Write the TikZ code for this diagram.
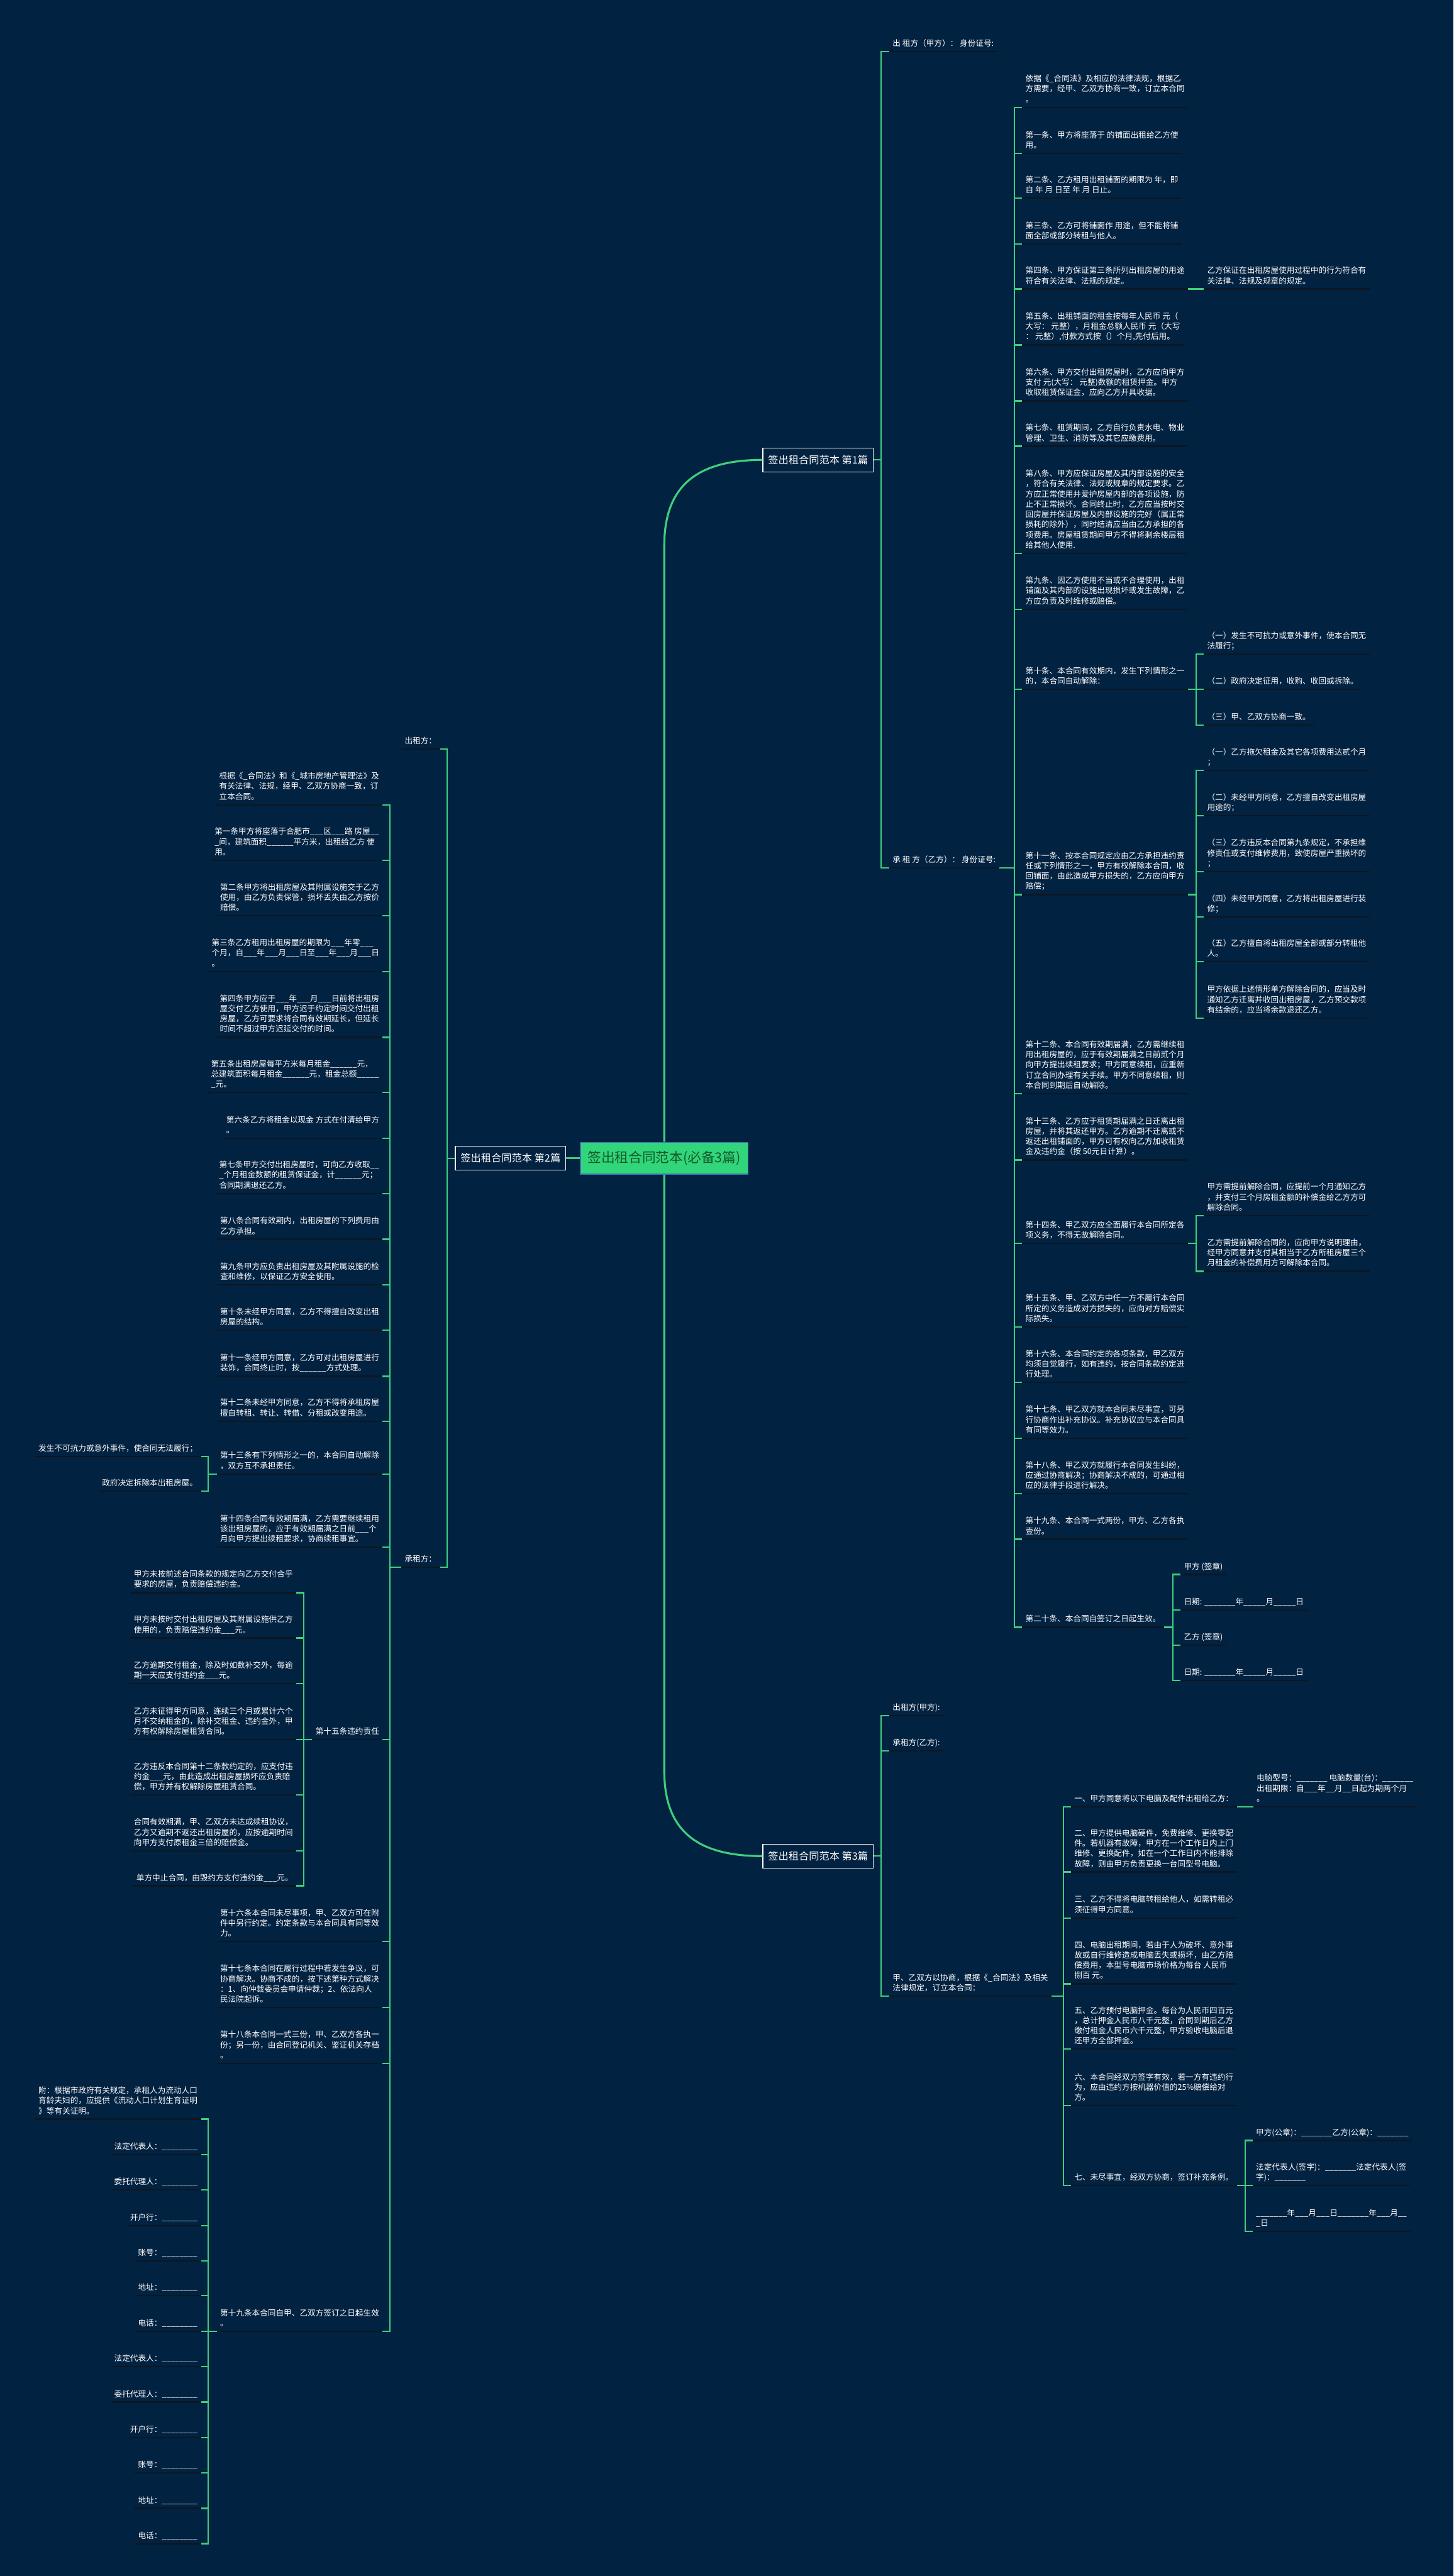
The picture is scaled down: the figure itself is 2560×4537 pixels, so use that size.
\documentclass[tikz,border=0pt]{standalone}
\usepackage{fontspec}
\newfontfamily\cjk{Noto Sans CJK SC}
\definecolor{bgc}{HTML}{022241}
\definecolor{lnc}{HTML}{3ECF7E}
\definecolor{ulc}{HTML}{0B1724}
\definecolor{ctrf}{HTML}{31D67A}
\definecolor{ctrd}{HTML}{3A6DB5}
\definecolor{ctrt}{HTML}{145A2C}
\tikzset{
  ul/.style={draw=ulc, line width=2.5pt},
  txt/.style={font=\cjk\fontsize{14}{18}\selectfont, text=white, align=left,
    inner xsep=6pt, inner ysep=6pt, text depth=3.2pt,
    append after command={(\tikzlastnode.south west) edge[ul] (\tikzlastnode.south east)}},
  R/.style={txt, anchor=south west},
  L/.style={txt, anchor=south east},
  conn/.style={draw=lnc, line width=2.5pt},
  mainc/.style={draw=lnc, line width=3.5pt},
  branch/.style={draw=white, line width=1.6pt, fill=bgc, text=white,
    font=\cjk\fontsize{18}{22}\selectfont, inner xsep=9pt, minimum height=42pt},
  hub/.style={draw=ctrd, line width=2pt, fill=ctrf, text=ctrt,
    font=\cjk\fontsize{24}{28}\selectfont, minimum width=295pt, minimum height=56pt}
}
\newcommand\RC[2]{\draw[conn] (#2.south west) -- ++(-13,0) |- (#1.south east);}
\newcommand\LC[2]{\draw[conn] (#2.south east) -- ++(13,0) |- (#1.south west);}
\begin{document}
\catcode`\_=12
\begin{tikzpicture}[x=1pt,y=-1pt]
\useasboundingbox (0,0) rectangle (2560,4537);
\fill[bgc] (0,0) rectangle (2560,4537);

% center and branches
\node[hub] (C0) at (1170,2040) {签出租合同范本(必备3篇)};
\node[branch, anchor=west] (B1) at (1343,810) {签出租合同范本 第1篇};
\node[branch, anchor=east] (B2) at (997,2040) {签出租合同范本 第2篇};
\node[branch, anchor=west] (B3) at (1343,3269) {签出租合同范本 第3篇};
\draw[mainc] (C0.west) -- (B2.east);
\draw[mainc] (C0.north) -- ++(0,-1050) .. controls +(0,-110) and +(-110,0) .. (B1.west);
\draw[mainc] (C0.south) -- ++(0,1050) .. controls +(0,110) and +(-110,0) .. (B3.west);

% ===== Branch 1 =====
\node[R] (A1) at (1566,91) {出 租方（甲方）： 身份证号:};
\node[R] (A2) at (1566,1528.6) {承 租 方（乙方）： 身份证号:};
\draw[conn] (A1.south west) -- ++(-14,0) |- (B1.east);
\draw[conn] (A2.south west) -- ++(-14,0) |- (B1.east);

\node[R] (c0) at (1800,189) {依据《_合同法》及相应的法律法规，根据乙\\方需要，经甲、乙双方协商一致，订立本合同\\。};
\node[R] (c1) at (1800,270) {第一条、甲方将座落于 的铺面出租给乙方使\\用。};
\node[R] (c2) at (1800,349) {第二条、乙方租用出租铺面的期限为 年，即\\自 年 月 日至 年 月 日止。};
\node[R] (c3) at (1800,429.5) {第三条、乙方可将铺面作 用途，但不能将铺\\面全部或部分转租与他人。};
\node[R] (c4) at (1800,509) {第四条、甲方保证第三条所列出租房屋的用途\\符合有关法律、法规的规定。};
\node[R] (d4) at (2120,509) {乙方保证在出租房屋使用过程中的行为符合有\\关法律、法规及规章的规定。};
\node[R] (c5) at (1800,607.5) {第五条、出租铺面的租金按每年人民币 元（\\大写： 元整），月租金总额人民币 元（大写\\： 元整）,付款方式按（）个月,先付后用。};
\node[R] (c6) at (1800,706) {第六条、甲方交付出租房屋时，乙方应向甲方\\支付 元(大写： 元整)数额的租赁押金。甲方\\收取租赁保证金，应向乙方开具收据。};
\node[R] (c7) at (1800,786) {第七条、租赁期间，乙方自行负责水电、物业\\管理、卫生、消防等及其它应缴费用。};
\node[R] (c8) at (1800,974.5) {第八条、甲方应保证房屋及其内部设施的安全\\，符合有关法律、法规或规章的规定要求。乙\\方应正常使用并爱护房屋内部的各项设施，防\\止不正常损坏。合同终止时，乙方应当按时交\\回房屋并保证房屋及内部设施的完好（属正常\\损耗的除外），同时结清应当由乙方承担的各\\项费用。房屋租赁期间甲方不得将剩余楼层租\\给其他人使用.};
\node[R] (c9) at (1800,1073) {第九条、因乙方使用不当或不合理使用，出租\\铺面及其内部的设施出现损坏或发生故障，乙\\方应负责及时维修或赔偿。};
\node[R] (c10) at (1800,1214) {第十条、本合同有效期内，发生下列情形之一\\的，本合同自动解除：};
\node[R] (e0) at (2120,1152) {（一）发生不可抗力或意外事件，使本合同无\\法履行；};
\node[R] (e1) at (2120,1214) {（二）政府决定征用，收购、收回或拆除。};
\node[R] (e2) at (2120,1277) {（三）甲、乙双方协商一致。};
\node[R] (c11) at (1800,1575.5) {第十一条、按本合同规定应由乙方承担违约责\\任或下列情形之一，甲方有权解除本合同，收\\回铺面，由此造成甲方损失的，乙方应向甲方\\赔偿；};
\node[R] (h0) at (2120,1356.6) {（一）乙方拖欠租金及其它各项费用达贰个月\\；};
\node[R] (h1) at (2120,1436.7) {（二）未经甲方同意，乙方擅自改变出租房屋\\用途的；};
\node[R] (h2) at (2120,1535) {（三）乙方违反本合同第九条规定，不承担维\\修责任或支付维修费用，致使房屋严重损坏的\\；};
\node[R] (h3) at (2120,1615) {（四）未经甲方同意，乙方将出租房屋进行装\\修；};
\node[R] (h4) at (2120,1694) {（五）乙方擅自将出租房屋全部或部分转租他\\人。};
\node[R] (h5) at (2120,1793) {甲方依据上述情形单方解除合同的，应当及时\\通知乙方迁离并收回出租房屋，乙方预交款项\\有结余的，应当将余款退还乙方。};
\node[R] (c12) at (1800,1926) {第十二条、本合同有效期届满，乙方需继续租\\用出租房屋的，应于有效期届满之日前贰个月\\向甲方提出续租要求；甲方同意续租，应重新\\订立合同办理有关手续。甲方不同意续租，则\\本合同到期后自动解除。};
\node[R] (c13) at (1800,2043) {第十三条、乙方应于租赁期届满之日迁离出租\\房屋，并将其返还甲方。乙方逾期不迁离或不\\返还出租铺面的，甲方可有权向乙方加收租赁\\金及违约金（按 50元日计算）。};
\node[R] (c14) at (1800,2190) {第十四条、甲乙双方应全面履行本合同所定各\\项义务，不得无故解除合同。};
\node[R] (i0) at (2120,2141) {甲方需提前解除合同，应提前一个月通知乙方\\，并支付三个月房租金额的补偿金给乙方方可\\解除合同。};
\node[R] (i1) at (2120,2239) {乙方需提前解除合同的，应向甲方说明理由，\\经甲方同意并支付其相当于乙方所租房屋三个\\月租金的补偿费用方可解除本合同。};
\node[R] (c15) at (1800,2337) {第十五条、甲、乙双方中任一方不履行本合同\\所定的义务造成对方损失的，应向对方赔偿实\\际损失。};
\node[R] (c16) at (1800,2435) {第十六条、本合同约定的各项条款，甲乙双方\\均须自觉履行，如有违约，按合同条款约定进\\行处理。};
\node[R] (c17) at (1800,2533) {第十七条、甲乙双方就本合同未尽事宜，可另\\行协商作出补充协议。补充协议应与本合同具\\有同等效力。};
\node[R] (c18) at (1800,2631) {第十八条、甲乙双方就履行本合同发生纠纷，\\应通过协商解决；协商解决不成的，可通过相\\应的法律手段进行解决。};
\node[R] (c19) at (1800,2711) {第十九条、本合同一式两份，甲方、乙方各执\\壹份。};
\node[R] (c20) at (1800,2866) {第二十条、本合同自签订之日起生效。};
\node[R] (j0) at (2079,2773) {甲方 (签章)};
\node[R] (j1) at (2079,2835.5) {日期: _______年_____月_____日};
\node[R] (j2) at (2079,2898) {乙方 (签章)};
\node[R] (j3) at (2079,2960) {日期: _______年_____月_____日};

\foreach \i in {0,...,20} {\RC{A2}{c\i}}
\RC{c4}{d4}
\foreach \i in {0,1,2} {\RC{c10}{e\i}}
\foreach \i in {0,...,5} {\RC{c11}{h\i}}
\foreach \i in {0,1} {\RC{c14}{i\i}}
\foreach \i in {0,...,3} {\RC{c20}{j\i}}

% ===== Branch 3 =====
\node[R] (k0) at (1566,3021.6) {出租方(甲方):};
\node[R] (k1) at (1566,3084) {承租方(乙方):};
\node[R] (k2) at (1566,3515.7) {甲、乙双方以协商，根据《_合同法》及相关\\法律规定，订立本合同：};
\foreach \i in {0,1,2} {\draw[conn] (k\i.south west) -- ++(-14,0) |- (B3.east);}
\node[R] (m0) at (1886,3182) {一、甲方同意将以下电脑及配件出租给乙方：};
\node[R] (ma) at (2207,3182) {电脑型号：_______ 电脑数量(台)：_______\\出租期限：自___年__月__日起为期两个月\\。};
\node[R] (m1) at (1886,3297) {二、甲方提供电脑硬件，免费维修、更换零配\\件。若机器有故障，甲方在一个工作日内上门\\维修、更换配件，如在一个工作日内不能排除\\故障，则由甲方负责更换一台同型号电脑。};
\node[R] (m2) at (1886,3378) {三、乙方不得将电脑转租给他人，如需转租必\\须征得甲方同意。};
\node[R] (m3) at (1886,3494) {四、电脑出租期间，若由于人为破坏、意外事\\故或自行维修造成电脑丢失或损坏，由乙方赔\\偿费用，本型号电脑市场价格为每台 人民币\\捌百 元。};
\node[R] (m4) at (1886,3609) {五、乙方预付电脑押金。每台为人民币四百元\\，总计押金人民币八千元整，合同到期后乙方\\缴付租金人民币六千元整，甲方验收电脑后退\\还甲方全部押金。};
\node[R] (m5) at (1886,3708.5) {六、本合同经双方签字有效，若一方有违约行\\为，应由违约方按机器价值的25\%赔偿给对\\方。};
\node[R] (m6) at (1886,3849) {七、未尽事宜，经双方协商，签订补充条例。};
\node[R] (n0) at (2206,3770) {甲方(公章)：_______乙方(公章)：_______};
\node[R] (n1) at (2206,3849) {法定代表人(签字)：_______法定代表人(签\\字)：_______};
\node[R] (n2) at (2206,3930) {_______年___月___日_______年___月__\\_日};
\foreach \i in {0,...,6} {\RC{k2}{m\i}}
\RC{m0}{ma}
\foreach \i in {0,1,2} {\RC{m6}{n\i}}

% ===== Branch 2 =====
\node[L] (L1) at (775,1319) {出租方：};
\node[L] (L2) at (775,2760) {承租方：};
\draw[conn] (L1.south east) -- ++(12.5,0) |- (B2.west);
\draw[conn] (L2.south east) -- ++(12.5,0) |- (B2.west);

\node[L] (p0) at (674,1417.5) {根据《_合同法》和《_城市房地产管理法》及\\有关法律、法规，经甲、乙双方协商一致，订\\立本合同。};
\node[L] (p1) at (674,1515) {第一条甲方将座落于合肥市___区___路 房屋__\\_间，建筑面积______平方米，出租给乙方 使\\用。};
\node[L] (p2) at (674,1613) {第二条甲方将出租房屋及其附属设施交于乙方\\使用，由乙方负责保管，损坏丢失由乙方按价\\赔偿。};
\node[L] (p3) at (674,1711) {第三条乙方租用出租房屋的期限为___年零___\\个月，自___年___月___日至___年___月___日\\。};
\node[L] (p4) at (674,1827) {第四条甲方应于___年___月___日前将出租房\\屋交付乙方使用，甲方迟于约定时间交付出租\\房屋，乙方可要求将合同有效期延长，但延长\\时间不超过甲方迟延交付的时间。};
\node[L] (p5) at (674,1924) {第五条出租房屋每平方米每月租金______元，\\总建筑面积每月租金______元，租金总额_____\\_元。};
\node[L] (p6) at (674,2004.7) {第六条乙方将租金以现金 方式在付清给甲方\\。};
\node[L] (p7) at (674,2102) {第七条甲方交付出租房屋时，可向乙方收取__\\_个月租金数额的租赁保证金，计______元；\\合同期满退还乙方。};
\node[L] (p8) at (674,2182.7) {第八条合同有效期内，出租房屋的下列费用由\\乙方承担。};
\node[L] (p9) at (674,2263) {第九条甲方应负责出租房屋及其附属设施的检\\查和维修，以保证乙方安全使用。};
\node[L] (p10) at (674,2343) {第十条未经甲方同意，乙方不得擅自改变出租\\房屋的结构。};
\node[L] (p11) at (674,2424) {第十一条经甲方同意，乙方可对出租房屋进行\\装饰，合同终止时，按______方式处理。};
\node[L] (p12) at (674,2503) {第十二条未经甲方同意，乙方不得将承租房屋\\擅自转租、转让、转借、分租或改变用途。};
\node[L] (p13) at (674,2596) {第十三条有下列情形之一的，本合同自动解除\\，双方互不承担责任。};
\node[L] (q0) at (354,2565) {发生不可抗力或意外事件，使合同无法履行；};
\node[L] (q1) at (354,2626) {政府决定拆除本出租房屋。};
\node[L] (p14) at (674,2725) {第十四条合同有效期届满，乙方需要继续租用\\该出租房屋的，应于有效期届满之日前___个\\月向甲方提出续租要求，协商续租事宜。};
\node[L] (p15) at (674,3063.8) {第十五条违约责任};
\node[L] (r0) at (522,2805) {甲方未按前述合同条款的规定向乙方交付合乎\\要求的房屋，负责赔偿违约金。};
\node[L] (r1) at (522,2885) {甲方未按时交付出租房屋及其附属设施供乙方\\使用的，负责赔偿违约金___元。};
\node[L] (r2) at (522,2965) {乙方逾期交付租金，除及时如数补交外，每逾\\期一天应支付违约金___元。};
\node[L] (r3) at (522,3063.8) {乙方未征得甲方同意，连续三个月或累计六个\\月不交纳租金的，除补交租金、违约金外，甲\\方有权解除房屋租赁合同。};
\node[L] (r4) at (522,3161.6) {乙方违反本合同第十二条款约定的，应支付违\\约金___元，由此造成出租房屋损坏应负责赔\\偿，甲方并有权解除房屋租赁合同。};
\node[L] (r5) at (522,3259.8) {合同有效期满，甲、乙双方未达成续租协议，\\乙方又逾期不返还出租房屋的，应按逾期时间\\向甲方支付原租金三倍的赔偿金。};
\node[L] (r6) at (522,3321.4) {单方中止合同，由毁约方支付违约金___元。};
\node[L] (p16) at (674,3419.6) {第十六条本合同未尽事项，甲、乙双方可在附\\件中另行约定。约定条款与本合同具有同等效\\力。};
\node[L] (p17) at (674,3535.7) {第十七条本合同在履行过程中若发生争议，可\\协商解决。协商不成的，按下述第种方式解决\\：1、向仲裁委员会申请仲裁；2、依法向人\\民法院起诉。};
\node[L] (p18) at (674,3634) {第十八条本合同一式三份，甲、乙双方各执一\\份；另一份，由合同登记机关、鉴证机关存档\\。};
\node[L] (p19) at (674,4105.8) {第十九条本合同自甲、乙双方签订之日起生效\\。};
\node[L] (s0) at (354,3732.3) {附：根据市政府有关规定，承租人为流动人口\\育龄夫妇的，应提供《流动人口计划生育证明\\》等有关证明。};
\node[L] (s1) at (354,3794.7) {法定代表人：________};
\node[L] (s2) at (354,3857) {委托代理人：________};
\node[L] (s3) at (354,3919.6) {开户行：________};
\node[L] (s4) at (354,3982) {账号：________};
\node[L] (s5) at (354,4043) {地址：________};
\node[L] (s6) at (354,4105.8) {电话：________};
\node[L] (s7) at (354,4168) {法定代表人：________};
\node[L] (s8) at (354,4230.7) {委托代理人：________};
\node[L] (s9) at (354,4293) {开户行：________};
\node[L] (s10) at (354,4355.5) {账号：________};
\node[L] (s11) at (354,4418) {地址：________};
\node[L] (s12) at (354,4480) {电话：________};

\foreach \i in {0,...,19} {\LC{L2}{p\i}}
\foreach \i in {0,1} {\LC{p13}{q\i}}
\foreach \i in {0,...,6} {\LC{p15}{r\i}}
\foreach \i in {0,...,12} {\LC{p19}{s\i}}
\end{tikzpicture}
\end{document}
